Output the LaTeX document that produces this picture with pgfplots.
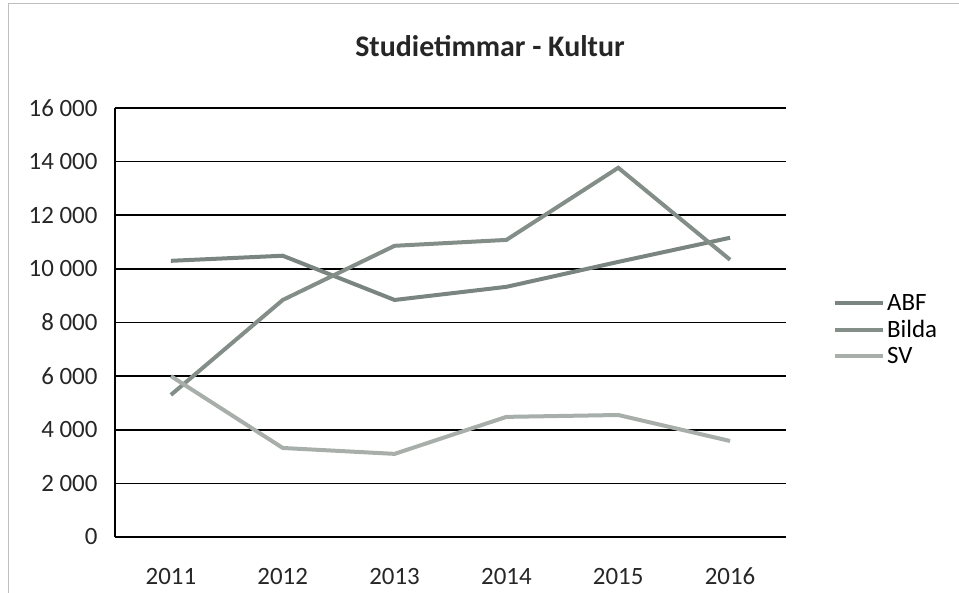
\documentclass[border=0pt]{standalone}
\usepackage{pgfplots}
\pgfplotsset{compat=1.18}
\usepackage{fontspec}
\setmainfont{Carlito}
\definecolor{lnA}{RGB}{122,132,128}
\definecolor{lnB}{RGB}{132,142,137}
\definecolor{lnC}{RGB}{168,174,170}
\begin{document}
\begin{tikzpicture}[x=1bp,y=1bp]
\path[use as bounding box] (0,0) rectangle (959,593);
\draw[black!25, line width=0.8bp] (8,0) -- (8,590) -- (959,590);
\node[font=\fontsize{30}{34}\selectfont\bfseries, text=black!85] at (490,547) {Studietimmar - Kultur};
\begin{axis}[
  at={(115bp,56bp)}, anchor=origin,
  scale only axis, width=671bp, height=429bp,
  xmin=2010.5, xmax=2016.5, ymin=0, ymax=16000,
  xtick={2011,...,2016},
  xticklabels={2011,2012,2013,2014,2015,2016},
  ytick={0,2000,...,16000},
  yticklabels={0,2 000,4 000,6 000,8 000,10 000,12 000,14 000,16 000},
  scaled y ticks=false,
  /pgf/number format/assume math mode=true,
  ticklabel style={font=\fontsize{25}{27}\selectfont, text=black!85},
  xticklabel style={anchor=base, yshift=-48bp},
  yticklabel style={xshift=-14bp},
  axis x line*=bottom, axis y line*=left,
  axis line style={black, line width=1.3bp},
  ymajorgrids, grid style={black, line width=1.6bp},
  major tick length=0pt,
  legend style={at={(axis description cs:1.07,0.57)}, anchor=north west, draw=none, fill=none,
    font=\fontsize{25}{27}\selectfont, row sep=4bp, inner sep=0pt},
  legend cell align=left,
  legend image code/.code={\draw[#1, line width=4bp] (0bp,0bp) -- (48bp,0bp);},
  clip=false,
]
\addplot[lnA, line width=4bp] coordinates {(2011,10300) (2012,10490) (2013,8840) (2014,9330) (2015,10260) (2016,11160)};
\addlegendentry{ABF}
\addplot[lnB, line width=4bp] coordinates {(2011,5300) (2012,8840) (2013,10860) (2014,11080) (2015,13770) (2016,10340)};
\addlegendentry{Bilda}
\addplot[lnC, line width=4bp] coordinates {(2011,6000) (2012,3320) (2013,3100) (2014,4480) (2015,4550) (2016,3580)};
\addlegendentry{SV}
\end{axis}
\end{tikzpicture}
\end{document}
